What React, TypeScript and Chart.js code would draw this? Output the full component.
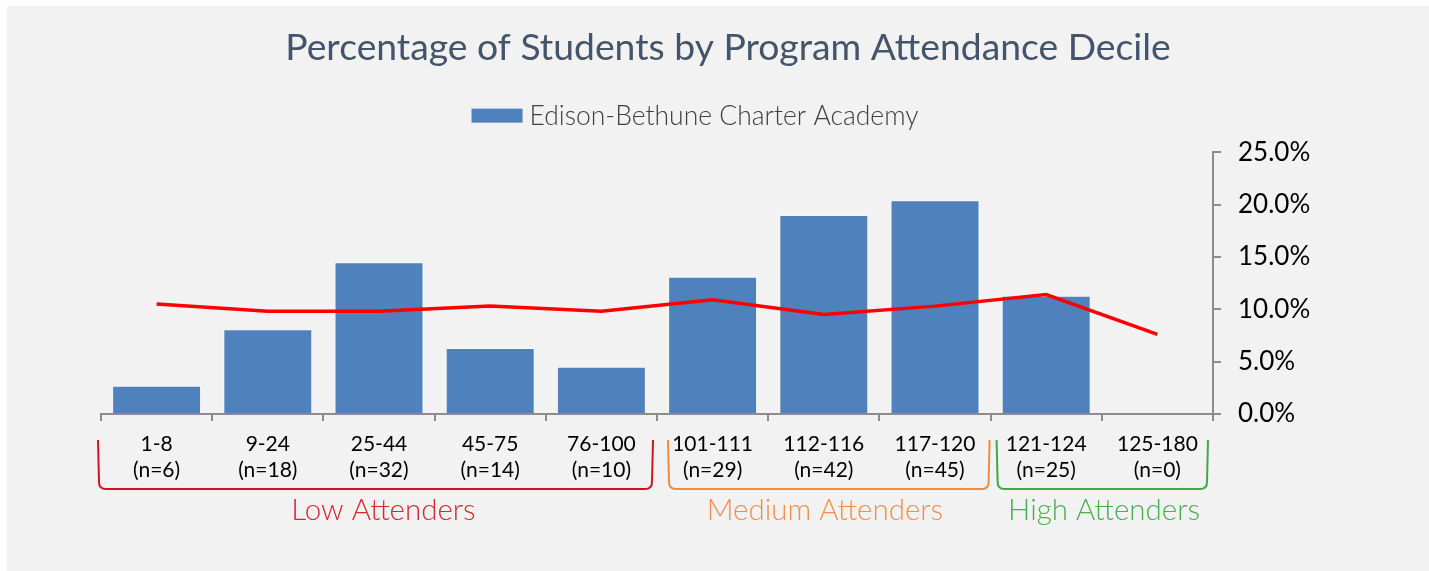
import React, { useEffect, useRef } from "react";
import { Chart, registerables } from "chart.js";

Chart.register(...registerables);

const rangeLabels = ["1-8", "9-24", "25-44", "45-75", "76-100", "101-111", "112-116", "117-120", "121-124", "125-180"];
const countLabels = ["(n=6)", "(n=18)", "(n=32)", "(n=14)", "(n=10)", "(n=29)", "(n=42)", "(n=45)", "(n=25)", "(n=0)"];
const schoolShare = [2.7, 8.1, 14.5, 6.3, 4.5, 13.1, 19.0, 20.4, 11.3, 0];
const referenceLine = [10.5, 9.8, 9.8, 10.3, 9.8, 10.9, 9.5, 10.3, 11.4, 7.6];
const yTicks = [0, 5, 10, 15, 20, 25];

const seriesName = "Edison-Bethune Charter Academy";
const barColor = "#4f81bd";

const groupNames = ["Low Attenders", "Medium Attenders", "High Attenders"];
const groupStart = [0, 5, 8];
const groupEnd = [4, 7, 9];
const groupLabelAt = [2.04, 6.01, 8.52];
const groupColors = ["#d8262c", "#f28e4b", "#4bae4f"];
const groupBracketColors = ["#d0141e", "#f08a3c", "#3daa47"];
const groupEdgeOffsets = [[-3, -4], [11, -1], [6, -5]];

const AXIS_GRAY = "#8c8c8c";

const groupPlugin = {
  id: "groupBrackets",
  afterDraw(chart: any) {
    const x = chart.scales.x;
    const ctx = chart.ctx;
    const axisY = x.top;
    const top = axisY + 26;
    const bottom = axisY + 75;
    const r = 7;
    ctx.save();
    for (let g = 0; g < groupNames.length; g++) {
      const left = x.getPixelForValue(groupStart[g] - 0.5) + groupEdgeOffsets[g][0];
      const right = x.getPixelForValue(groupEnd[g] + 0.5) + groupEdgeOffsets[g][1];
      ctx.strokeStyle = groupBracketColors[g];
      ctx.lineWidth = 2;
      ctx.beginPath();
      ctx.moveTo(left, top);
      ctx.lineTo(left + 1, bottom - r);
      ctx.quadraticCurveTo(left + 1, bottom, left + 1 + r, bottom);
      ctx.lineTo(right - 1 - r, bottom);
      ctx.quadraticCurveTo(right - 1, bottom, right - 1, bottom - r);
      ctx.lineTo(right, top);
      ctx.stroke();

      ctx.fillStyle = groupColors[g];
      ctx.font = "300 29.5px Lato";
      ctx.textAlign = "center";
      ctx.textBaseline = "alphabetic";
      ctx.fillText(groupNames[g], x.getPixelForValue(groupLabelAt[g]), axisY + 106);
    }
    ctx.restore();
  },
};

const legendPlugin = {
  id: "customLegend",
  afterDraw(chart: any) {
    const ctx = chart.ctx;
    const area = chart.chartArea;
    const cy = area.top - 36.5;
    ctx.save();
    ctx.font = "300 26.5px Lato";
    const textW = ctx.measureText(seriesName).width;
    const boxW = 51;
    const boxH = 14;
    const gap = 7;
    const total = boxW + gap + textW;
    const cx = (area.left + area.right) / 2 + 38;
    const x0 = cx - total / 2;
    ctx.fillStyle = barColor;
    ctx.fillRect(x0, cy - boxH / 2, boxW, boxH);
    ctx.fillStyle = "#404040";
    ctx.textAlign = "left";
    ctx.textBaseline = "middle";
    ctx.fillText(seriesName, x0 + boxW + gap, cy + 1);
    ctx.restore();
  },
};

export default function App() {
  const canvasRef = useRef<HTMLCanvasElement | null>(null);

  useEffect(() => {
    if (!canvasRef.current) return;
    const labels = rangeLabels.map((r, i) => [r, countLabels[i]]);
    const chart = new Chart(canvasRef.current, {
      type: "bar",
      data: {
        labels,
        datasets: [
          {
            type: "line",
            label: "Reference",
            data: referenceLine,
            borderColor: "#ff0000",
            backgroundColor: "#ff0000",
            borderWidth: 3.5,
            pointRadius: 0,
            tension: 0,
            order: 0,
          } as any,
          {
            type: "bar",
            label: seriesName,
            data: schoolShare,
            backgroundColor: barColor,
            borderColor: "rgba(255,255,255,0.45)",
            borderWidth: 1,
            barPercentage: 0.8,
            categoryPercentage: 1,
            order: 1,
          },
        ],
      },
      options: {
        animation: false,
        responsive: false,
        maintainAspectRatio: false,
        layout: { padding: { left: 101, right: 74, top: 0, bottom: 0 } },
        plugins: {
          title: {
            display: true,
            text: "Percentage of Students by Program Attendance Decile",
            color: "#44546a",
            font: { family: "Lato", size: 37.3, weight: "normal" },
            padding: { top: 25.5, bottom: 81.9 },
          },
          legend: { display: false },
          tooltip: { enabled: false },
        },
        scales: {
          x: {
            grid: {
              offset: true,
              drawOnChartArea: false,
              tickLength: 7,
              color: AXIS_GRAY,
              lineWidth: 2,
            },
            border: { color: AXIS_GRAY, width: 2 },
            ticks: {
              color: "#000000",
              font: { family: "Lato", size: 21, lineHeight: 1.25 },
              padding: 10,
              maxRotation: 0,
              autoSkip: false,
            },
            afterFit(scale: any) {
              scale.height = 157;
            },
          },
          y: {
            position: "right",
            min: 0,
            max: 25,
            afterBuildTicks(scale: any) {
              scale.ticks = yTicks.map((v) => ({ value: v }));
            },
            grid: {
              drawOnChartArea: false,
              tickLength: 8,
              color: AXIS_GRAY,
              lineWidth: 2,
            },
            border: { color: AXIS_GRAY, width: 2 },
            ticks: {
              color: "#000000",
              font: { family: "Lato", size: 26 },
              padding: 17,
              callback: (v: any) => Number(v).toFixed(1) + "%",
            },
            afterFit(scale: any) {
              scale.width = 142;
            },
          },
        },
      },
      plugins: [groupPlugin, legendPlugin],
    });
    return () => chart.destroy();
  }, []);

  return (
    <div style={{ position: "fixed", left: 0, top: 0, width: 1429, height: 571 }}>
      <div style={{ position: "absolute", left: 7, top: 6, right: 0, bottom: 0, background: "#f2f2f2" }} />
      <canvas ref={canvasRef} width={1429} height={571} style={{ position: "absolute", left: 0, top: 0 }} />
    </div>
  );
}
